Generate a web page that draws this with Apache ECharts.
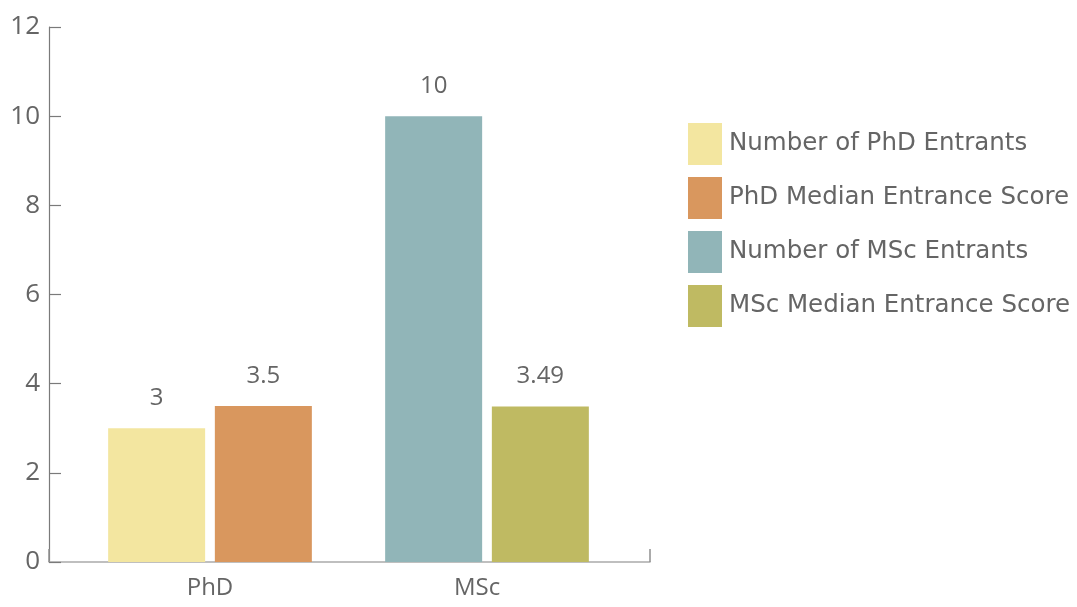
<!DOCTYPE html>
<html>
<head>
<meta charset="utf-8">
<script src="https://cdn.jsdelivr.net/npm/echarts@6/dist/echarts.min.js"></script>
<style>
  html, body { margin: 0; padding: 0; background: #ffffff; }
  #chart { width: 1077px; height: 607px; }
</style>
</head>
<body>
<div id="chart"></div>
<script>
// Programme categories and the four measured series
const categories = ['PhD', 'MSc'];
const seriesNames = [
  'Number of PhD Entrants',
  'PhD Median Entrance Score',
  'Number of MSc Entrants',
  'MSc Median Entrance Score'
];
const phdEntrants = [3, '-'];
const phdMedianScore = [3.5, '-'];
const mscEntrants = ['-', 10];
const mscMedianScore = ['-', 3.49];
const yTicks = { min: 0, max: 12, interval: 2 };

const colors = ['#F3E6A0', '#D9975E', '#91B5B8', '#BFBA62'];
const FONT = 'Open Sans';
const LEGEND_FONT = 'DejaVu Sans';
const TEXT = '#656565';

const valueLabel = {
  show: true,
  position: 'top',
  distance: 18,
  color: TEXT,
  fontFamily: FONT,
  fontSize: 24
};

function bar(name, data, stack, color) {
  return {
    name: name,
    type: 'bar',
    xAxisIndex: 1,
    yAxisIndex: 1,
    stack: stack,
    data: data,
    barWidth: 97,
    barGap: '10%',
    itemStyle: { color: color },
    label: valueLabel
  };
}

const chart = echarts.init(document.getElementById('chart'), null, { renderer: 'canvas' });
chart.setOption({
  animation: false,
  color: colors,
  textStyle: { fontFamily: FONT },
  legend: {
    orient: 'vertical',
    left: 688,
    top: 123,
    padding: 0,
    itemWidth: 34,
    itemHeight: 42,
    itemGap: 12,
    icon: 'rect',
    data: seriesNames,
    textStyle: { color: TEXT, fontFamily: LEGEND_FONT, fontSize: 24.5, padding: [0, 0, 0, 2] }
  },
  grid: [
    // frame grid carrying the visible axes
    { left: 49, right: 427, top: 27, bottom: 45 },
    // inner grid in which the bars are laid out
    { left: 71.5, width: 554, top: 27, bottom: 45 }
  ],
  xAxis: [
    {
      type: 'category',
      gridIndex: 0,
      data: categories,
      axisLine: { lineStyle: { color: '#ababab', width: 1.5 } },
      axisTick: {
        show: true,
        inside: true,
        length: 13,
        interval: function (i) { return i === 1; },
        lineStyle: { color: '#909090', width: 1.5 }
      },
      axisLabel: { show: false }
    },
    {
      type: 'category',
      gridIndex: 1,
      data: categories,
      axisLine: { show: false },
      axisTick: { show: false },
      axisLabel: {
        color: TEXT,
        fontFamily: FONT,
        fontSize: 24,
        margin: 14,
        formatter: function (v, i) { return i === 1 ? '{shift|' + v + '}' : v; },
        rich: {
          shift: { color: TEXT, fontFamily: FONT, fontSize: 24, padding: [0, 20, 0, 0] }
        }
      }
    }
  ],
  yAxis: [
    {
      type: 'value',
      gridIndex: 0,
      min: yTicks.min,
      max: yTicks.max,
      interval: yTicks.interval,
      axisLine: { show: true, lineStyle: { color: '#7a7a7a', width: 1.2 } },
      axisTick: { show: true, inside: true, length: 12, lineStyle: { color: '#7a7a7a', width: 1.2 } },
      splitLine: { show: false },
      axisLabel: { color: TEXT, fontFamily: FONT, fontSize: 26, margin: 9 }
    },
    {
      type: 'value',
      gridIndex: 1,
      min: yTicks.min,
      max: yTicks.max,
      interval: yTicks.interval,
      show: false,
      splitLine: { show: false }
    }
  ],
  series: [
    bar(seriesNames[0], phdEntrants, 'count', colors[0]),
    bar(seriesNames[1], phdMedianScore, 'score', colors[1]),
    bar(seriesNames[2], mscEntrants, 'count', colors[2]),
    bar(seriesNames[3], mscMedianScore, 'score', colors[3])
  ]
});
</script>
</body>
</html>
